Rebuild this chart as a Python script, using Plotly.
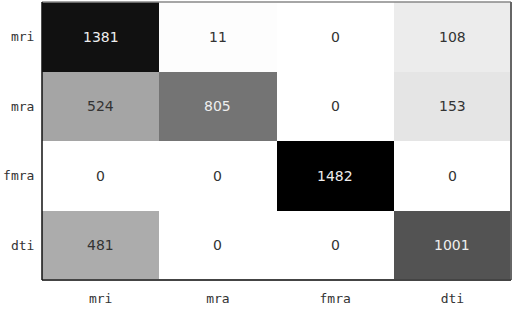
import plotly.graph_objects as go

row_labels = ["mri", "mra", "fmra", "dti"]
col_labels = ["mri", "mra", "fmra", "dti"]
counts = [
    [1381, 11, 0, 108],
    [524, 805, 0, 153],
    [0, 0, 1482, 0],
    [481, 0, 0, 1001],
]

zmax = max(max(r) for r in counts)

fig = go.Figure(go.Heatmap(
    z=counts, x=col_labels, y=row_labels,
    colorscale=[[0, "#ffffff"], [1, "#000000"]],
    zmin=0, zmax=zmax, showscale=False, xgap=0, ygap=0,
    hoverinfo="skip",
))

for i, r in enumerate(row_labels):
    for j, c in enumerate(col_labels):
        v = counts[i][j]
        col = "#eeeeee" if v / zmax > 0.5 else "#333333"
        fig.add_annotation(x=c, y=r, text=str(v), showarrow=False,
                           font=dict(family="DejaVu Sans", size=14, color=col))

fig.add_shape(type="line", xref="paper", yref="paper", x0=0, x1=1, y0=1, y1=1,
              line=dict(color="#888888", width=1.5))
fig.add_shape(type="line", xref="paper", yref="paper", x0=1, x1=1, y0=0, y1=1,
              line=dict(color="#666666", width=2))
fig.add_shape(type="line", xref="paper", yref="paper", x0=0, x1=1, y0=0, y1=0,
              line=dict(color="#444444", width=2))
fig.add_shape(type="line", xref="paper", yref="paper", x0=0, x1=0, y0=0, y1=1,
              line=dict(color="#111111", width=1.5))

fig.update_layout(
    width=514, height=309,
    margin=dict(l=42, r=3, t=2, b=29),
    paper_bgcolor="white", plot_bgcolor="white",
    xaxis=dict(showgrid=False, zeroline=False, ticks="outside", ticklen=6,
               tickcolor="rgba(0,0,0,0)",
               tickfont=dict(family="DejaVu Sans Mono", size=13, color="#333333")),
    yaxis=dict(showgrid=False, zeroline=False, autorange="reversed",
               ticks="outside", ticklen=4, tickcolor="rgba(0,0,0,0)",
               tickfont=dict(family="DejaVu Sans Mono", size=13, color="#333333")),
)

fig.write_html("out.html")
